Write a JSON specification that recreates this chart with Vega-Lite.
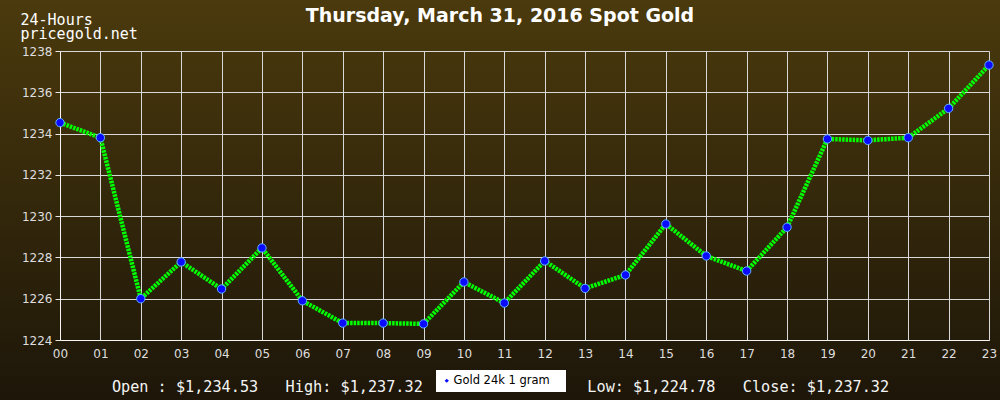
{
  "$schema": "https://vega.github.io/schema/vega-lite/v6.json",
  "width": 1000,
  "height": 400,
  "autosize": {"type": "none"},
  "padding": 0,
  "background": "#2f250c",
  "title": {
    "text": "Thursday, March 31, 2016 Spot Gold",
    "anchor": "middle",
    "frame": "group",
    "font": "DejaVu Sans",
    "fontSize": 19,
    "fontWeight": "bold",
    "color": "#ffffff",
    "baseline": "alphabetic",
    "offset": 0,
    "dy": 41
  },
  "config": {
    "view": {
      "stroke": null,
      "fill": {
        "gradient": "linear",
        "x1": 0, "y1": 0, "x2": 0, "y2": 1,
        "stops": [
          {"offset": 0, "color": "#4b3a0d"},
          {"offset": 1, "color": "#1d1609"}
        ]
      }
    }
  },
  "data": {
    "values": [
      {"hour": 0, "price": 1234.53},
      {"hour": 1, "price": 1233.80},
      {"hour": 2, "price": 1226.00},
      {"hour": 3, "price": 1227.78},
      {"hour": 4, "price": 1226.47},
      {"hour": 5, "price": 1228.46},
      {"hour": 6, "price": 1225.90},
      {"hour": 7, "price": 1224.82},
      {"hour": 8, "price": 1224.82},
      {"hour": 9, "price": 1224.78},
      {"hour": 10, "price": 1226.81},
      {"hour": 11, "price": 1225.79},
      {"hour": 12, "price": 1227.83},
      {"hour": 13, "price": 1226.50},
      {"hour": 14, "price": 1227.15},
      {"hour": 15, "price": 1229.62},
      {"hour": 16, "price": 1228.07},
      {"hour": 17, "price": 1227.34},
      {"hour": 18, "price": 1229.46},
      {"hour": 19, "price": 1233.74},
      {"hour": 20, "price": 1233.67},
      {"hour": 21, "price": 1233.80},
      {"hour": 22, "price": 1235.22},
      {"hour": 23, "price": 1237.32}
    ]
  },
  "resolve": {"axis": {"x": "independent"}},
  "layer": [
    {
      "mark": {"type": "line", "color": "#00ff00", "strokeWidth": 4.5, "strokeDash": [2.5, 1]},
      "encoding": {
        "x": {
          "field": "hour", "type": "quantitative",
          "scale": {"domain": [0, 23], "range": [60, 989], "nice": false, "zero": false},
          "axis": {
            "orient": "top", "offset": -51, "grid": true, "gridColor": "#d8d8d8", "gridWidth": 1, "gridOpacity": 1,
            "labels": false, "ticks": false, "domain": false, "title": null,
            "values": [0,1,2,3,4,5,6,7,8,9,10,11,12,13,14,15,16,17,18,19,20,21,22,23]
          }
        },
        "y": {
          "field": "price", "type": "quantitative",
          "scale": {"domain": [1224, 1238], "range": [340, 51], "nice": false, "zero": false},
          "axis": {
            "orient": "left", "offset": -60,
            "values": [1224,1225,1226,1227,1228,1229,1230,1231,1232,1233,1234,1235,1236,1237,1238],
            "labelExpr": "datum.value % 2 === 0 ? datum.label : ''",
            "format": "d",
            "grid": true,
            "gridColor": {"condition": {"test": "datum.value % 2 !== 0", "value": "transparent"}, "value": "#d8d8d8"},
            "gridOpacity": 1,
            "tickSize": {"condition": {"test": "datum.value % 2 !== 0", "value": 3}, "value": 5},
            "tickColor": "#e8e8e8",
            "domainColor": "#f4f4f4",
            "labelFont": "DejaVu Sans", "labelFontSize": 12, "labelColor": "#dedede", "labelPadding": 3,
            "labelFlush": false,
            "title": ["24-Hours", "pricegold.net"],
            "titleAngle": 0, "titleAlign": "left", "titleBaseline": "alphabetic",
            "titleX": -40, "titleY": 24, "titleLineHeight": 14,
            "titleFont": "DejaVu Sans Mono", "titleFontSize": 15, "titleFontWeight": "normal", "titleColor": "#ffffff"
          }
        }
      }
    },
    {
      "mark": {"type": "point", "filled": true, "size": 70, "shape": "circle", "opacity": 1, "stroke": "#62b4ff", "strokeWidth": 1},
      "encoding": {
        "x": {
          "field": "hour", "type": "quantitative",
          "axis": {
            "orient": "bottom", "offset": -60, "grid": false, "ticks": false,
            "domainColor": "#f4f4f4",
            "values": [0,1,2,3,4,5,6,7,8,9,10,11,12,13,14,15,16,17,18,19,20,21,22,23],
            "labelExpr": "datum.value < 10 ? '0' + datum.value : '' + datum.value",
            "labelFlush": false, "labelOverlap": false,
            "labelFont": "DejaVu Sans", "labelFontSize": 12, "labelColor": "#dedede", "labelPadding": 8,
            "title": "Open : $1,234.53\u00a0\u00a0\u00a0High: $1,237.32\u00a0\u00a0\u00a0\u00a0\u00a0\u00a0\u00a0\u00a0\u00a0\u00a0\u00a0\u00a0\u00a0\u00a0\u00a0\u00a0\u00a0\u00a0Low: $1,224.78\u00a0\u00a0\u00a0Close: $1,237.32",
            "titleX": 500, "titleY": 51, "titleAlign": "center", "titleBaseline": "alphabetic",
            "titleFont": "DejaVu Sans Mono", "titleFontSize": 15.2, "titleFontWeight": "normal", "titleColor": "#f4f4f4"
          }
        },
        "y": {"field": "price", "type": "quantitative"},
        "color": {
          "datum": "Gold 24k 1 gram",
          "scale": {"range": ["#0a0aff"]},
          "legend": {
            "orient": "none", "legendX": 436, "legendY": 370,
            "title": null, "fillColor": "#ffffff", "padding": 5,
            "symbolType": "diamond", "symbolSize": 18, "symbolStrokeWidth": 0,
            "labelOffset": 1,
            "labelFont": "DejaVu Sans", "labelFontSize": 11.5, "labelColor": "#000000",
            "labelExpr": "datum.label + '\u00a0\u00a0\u00a0\u200b'"
          }
        }
      }
    }
  ]
}
